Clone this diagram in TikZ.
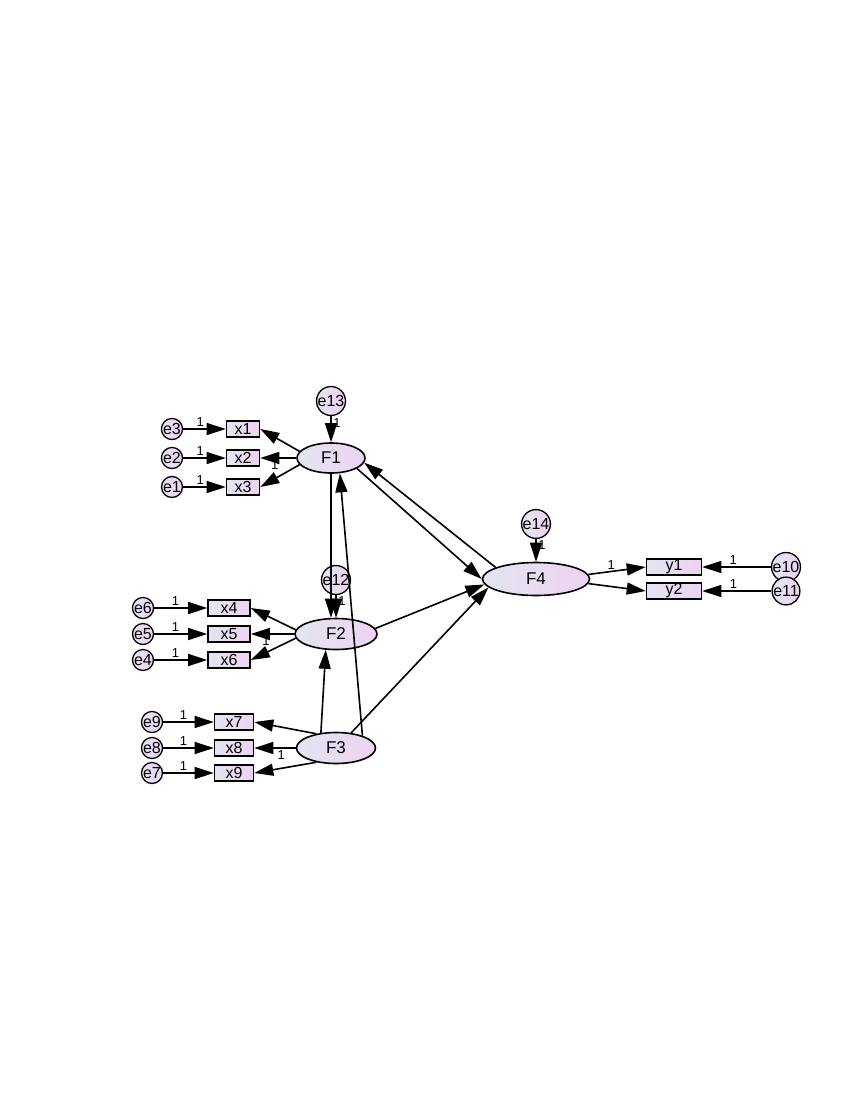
\documentclass[tikz,border=0pt]{standalone}
\usepackage{fontspec}
\setmainfont{Liberation Sans}
\usetikzlibrary{arrows.meta, shapes.geometric}
\definecolor{fillgrey}{RGB}{227,229,240}
\definecolor{fillpink}{RGB}{237,211,242}
\tikzset{
x=1pt, y=-1pt, % one unit is one pixel of the page
>={Triangle[length=19pt, width=12pt]}, % big filled heads
latent/.style={ellipse, draw, line width=1.6pt, inner sep=0pt, left color=fillgrey, right color=fillpink, font=\fontsize{17}{17}\selectfont}, % factors
observed/.style={rectangle, draw, line width=1.6pt, inner sep=0pt, minimum height=16pt, left color=fillgrey, right color=fillpink, font=\fontsize{16}{16}\selectfont}, % indicators
err/.style={circle, draw, line width=1.3pt, inner sep=0pt, minimum size=15pt, left color=fillgrey, right color=fillpink, font=\fontsize{16}{16}\selectfont}, % small error terms
bigerr/.style={err, minimum size=24pt}, % disturbances
path/.style={->, line width=1.6pt}, % regression weights
one/.style={font=\fontsize{13}{13}\selectfont, inner sep=1.5pt}, % fixed weights
}

\begin{document}
\begin{tikzpicture}
        \useasboundingbox (0,0) rectangle (850,1100);

        % factors
        \node[latent, minimum width=68pt, minimum height=30pt] (F1) at (331,458) {F1};
        \node[latent, minimum width=82pt, minimum height=31pt] (F2) at (336,634) {F2};
        \node[latent, minimum width=79pt, minimum height=31pt] (F3) at (336,748) {F3};
        \node[latent, minimum width=107pt, minimum height=33pt] (F4) at (536,579) {F4};

        % indicators
        \node[observed, minimum width=33pt] (x1) at (243,429) {x1};
        \node[observed, minimum width=33pt] (x2) at (243,458) {x2};
        \node[observed, minimum width=33pt] (x3) at (243,487) {x3};
        \node[observed, minimum width=42pt] (x4) at (229,608) {x4};
        \node[observed, minimum width=42pt] (x5) at (229,634) {x5};
        \node[observed, minimum width=42pt] (x6) at (229,660) {x6};
        \node[observed, minimum width=39pt] (x7) at (234,722) {x7};
        \node[observed, minimum width=39pt] (x8) at (234,748) {x8};
        \node[observed, minimum width=39pt] (x9) at (234,773) {x9};
        \node[observed, minimum width=55pt] (y1) at (674,567) {y1};
        \node[observed, minimum width=55pt] (y2) at (674,591) {y2};

        % error terms
        \node[err] (e3) at (172,429) {e3};
        \node[err] (e2) at (172,458) {e2};
        \node[err] (e1) at (172,487) {e1};
        \node[err] (e6) at (143,608) {e6};
        \node[err] (e5) at (143,634) {e5};
        \node[err] (e4) at (143,660) {e4};
        \node[err] (e9) at (152,722) {e9};
        \node[err] (e8) at (152,748) {e8};
        \node[err] (e7) at (152,773) {e7};
        \node[err] (e10) at (786,567) {e10};
        \node[err] (e11) at (786,591) {e11};
        \node[bigerr] (e13) at (331,401) {e13};
        \node[bigerr] (e12) at (336,580) {e12};
        \node[bigerr] (e14) at (536,524) {e14};

        % measurement part
        \draw[path] (e3) -- node[one, above, pos=0.4]{1} (x1);
        \draw[path] (e2) -- node[one, above, pos=0.4]{1} (x2);
        \draw[path] (e1) -- node[one, above, pos=0.4]{1} (x3);
        \draw[path] (e6) -- node[one, above, pos=0.4]{1} (x4);
        \draw[path] (e5) -- node[one, above, pos=0.4]{1} (x5);
        \draw[path] (e4) -- node[one, above, pos=0.4]{1} (x6);
        \draw[path] (e9) -- node[one, above, pos=0.4]{1} (x7);
        \draw[path] (e8) -- node[one, above, pos=0.4]{1} (x8);
        \draw[path] (e7) -- node[one, above, pos=0.4]{1} (x9);
        \draw[path] (e10) -- node[one, above, pos=0.55]{1} (y1);
        \draw[path] (e11) -- node[one, above, pos=0.55]{1} (y2);

        \draw[path] (F1.168) -- (x1.east);
        \draw[path] (F1.west) -- node[one, below, pos=0.6]{1} (x2.east);
        \draw[path] (F1.192) -- (x3.east);
        \draw[path] (F2.174) -- (x4.east);
        \draw[path] (F2.west) -- node[one, below, pos=0.65]{1} (x5.east);
        \draw[path] (F2.186) -- (x6.east);
        \draw[path] (F3.144) -- (x7.east);
        \draw[path] (F3.west) -- node[one, below, pos=0.35]{1} (x8.east);
        \draw[path] (F3.-144) -- (x9.east);
        \draw[path] (F4.5) -- node[one, above, pos=0.4]{1} (y1.west);
        \draw[path] (F4.-5) -- (y2.west);

        % disturbances
        \draw[path] (e13) -- node[one, right, pos=0.25]{1} (F1);
        \draw[path] (e12) -- node[one, right, pos=0.25]{1} (F2);
        \draw[path] (e14) -- node[one, right, pos=0.25]{1} (F4);

        % structural part
        \draw[path] (F1.south) -- (F1.south |- F2.north);
        \draw[path] (F3.135) -- (F2.-123);
        \draw[path] (F3.25) -- (F1.-60);
        \draw[path] (F1.-22) -- (F4.180);
        \draw[path] (F4.164) -- (F1.-8);
        \draw[path] (F2.8) -- (F4.186);
        \draw[path] (F3.45) -- (F4.190);
      \end{tikzpicture}
\end{document}
